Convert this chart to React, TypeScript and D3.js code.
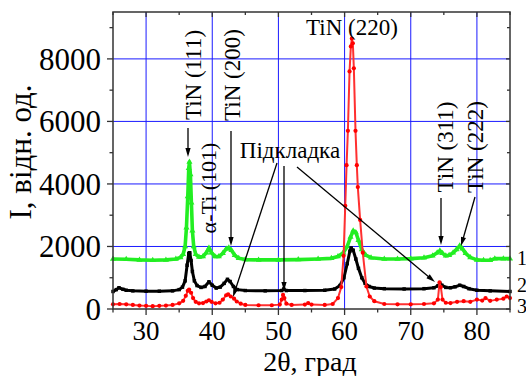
import React from "react";
import * as d3 from "d3";

// XRD patterns, 2θ (deg) vs intensity (arb. units)
const curve1: [number, number][] = [
  [25, 1600], [27, 1590], [29, 1570], [31, 1560], [33, 1570], [34.5, 1600], [35.2, 1650],
  [35.6, 1750], [35.9, 2000], [36.1, 2600], [36.3, 3600], [36.45, 4500], [36.55, 4700],
  [36.7, 4300], [36.85, 3400], [37.0, 2500], [37.2, 2000], [37.5, 1750], [38.0, 1660],
  [38.6, 1680], [39.1, 1800], [39.5, 1950], [39.9, 1800], [40.4, 1680], [41.0, 1680],
  [41.6, 1780], [42.1, 1920], [42.5, 1960], [42.9, 1880], [43.4, 1720], [44.0, 1620],
  [45, 1580], [47, 1570], [50, 1570], [53, 1580], [56, 1600], [58, 1620], [59, 1680],
  [59.8, 1800], [60.4, 2000], [60.9, 2300], [61.3, 2500], [61.7, 2450], [62.1, 2200],
  [62.6, 1900], [63.2, 1720], [64, 1640], [66, 1600], [68, 1600], [70, 1610], [72, 1640],
  [73.3, 1700], [74.0, 1800], [74.4, 1860], [74.8, 1780], [75.3, 1700], [75.8, 1720],
  [76.4, 1800], [76.9, 1900], [77.4, 2020], [77.8, 1930], [78.3, 1780], [79.0, 1650],
  [80, 1570], [81, 1560], [82, 1560], [82.7, 1610], [84, 1610], [85, 1610],
];

const curve2: [number, number][] = [
  [25, 560], [25.5, 620], [25.9, 680], [26.5, 630], [27, 600], [28, 580], [30, 570],
  [32, 570], [34, 580], [35, 620], [35.5, 700], [35.9, 900], [36.2, 1400], [36.45, 1780],
  [36.6, 1800], [36.8, 1550], [37.0, 1200], [37.3, 900], [37.7, 750], [38.3, 690],
  [38.9, 720], [39.5, 870], [40.0, 760], [40.6, 670], [41.2, 700], [41.8, 820], [42.3, 950],
  [42.7, 880], [43.2, 720], [43.8, 620], [45, 590], [48, 580], [50.5, 590], [50.8, 640],
  [51.2, 590], [54, 590], [57, 600], [58.5, 640], [59.3, 750], [59.9, 1000], [60.4, 1450],
  [60.8, 1850], [61.0, 1950], [61.3, 1880], [61.7, 1600], [62.1, 1300], [62.6, 1000],
  [63.1, 820], [63.7, 720], [64.5, 670], [66, 650], [69, 640], [72, 650], [73.5, 680],
  [74.1, 740], [74.4, 820], [74.7, 760], [75.3, 690], [76, 680], [76.7, 710], [77.4, 760],
  [78, 720], [78.8, 650], [80, 600], [82, 580], [85, 560],
];

const curve3: [number, number][] = [
  [25, 150], [26, 160], [27, 150], [28, 130], [29, 110], [30, 100], [31, 90], [32, 100],
  [33, 110], [34, 130], [35, 180], [35.6, 260], [36.0, 420], [36.3, 580], [36.5, 620],
  [36.8, 520], [37.1, 350], [37.5, 230], [38, 180], [38.6, 190], [39.1, 240], [39.5, 280],
  [39.9, 230], [40.5, 180], [41.1, 200], [41.6, 300], [42.1, 440], [42.4, 470], [42.8, 400],
  [43.3, 330], [43.7, 240], [44.3, 170], [45, 130], [47, 120], [49, 120], [50.2, 140],
  [50.5, 300], [50.7, 450], [50.9, 350], [51.2, 170], [52, 130], [54, 140], [54.5, 190],
  [55, 140], [57, 130], [58.2, 160], [59.0, 350], [59.5, 700], [59.85, 1700], [60.1, 3300],
  [60.3, 4600], [60.5, 5700], [60.75, 7600], [60.95, 8400], [61.1, 8650], [61.25, 8500],
  [61.4, 7700], [61.65, 5700], [61.85, 4600], [62.0, 3900], [62.35, 2850], [62.75, 1800],
  [63.3, 720], [63.8, 400], [64.5, 250], [66, 160], [68, 150], [70, 150], [72, 160],
  [73.5, 180], [74.1, 300], [74.35, 850], [74.55, 700], [74.8, 300], [75.3, 200], [76, 190],
  [77, 230], [78, 250], [79, 230], [80, 300], [80.8, 270], [81.3, 350], [82, 260], [83, 300],
  [84, 330], [84.5, 400], [85, 350],
];

const xTicks = [30, 40, 50, 60, 70, 80];
const xMinorTicks = [25, 35, 45, 55, 65, 75, 85];
const yTicks = [0, 2000, 4000, 6000, 8000];
const yMinorTicks = [1000, 3000, 5000, 7000, 9000];
const gridX = [30, 40, 50, 60, 70, 80];
const gridY = [2000, 4000, 6000, 8000];
const curveNames = ["1", "2", "3"];

const W = 526;
const H = 376;
const m = { top: 12, right: 16, bottom: 67, left: 113 };
const serif = "Liberation Serif, Times New Roman, serif";

export default function App() {
  const x = d3.scaleLinear().domain([25, 85]).range([m.left, W - m.right]);
  const y = d3.scaleLinear().domain([0, 9500]).range([H - m.bottom, m.top]);
  const line = d3
    .line<[number, number]>()
    .x((d) => x(d[0]))
    .y((d) => y(d[1]));

  const series = [
    { data: curve1, color: "#22ee22", line: "#22ee22", width: 3.6, sym: d3.symbolTriangle, size: 16 },
    { data: curve2, color: "#000000", line: "#000000", width: 3, sym: d3.symbolSquare, size: 12 },
    { data: curve3, color: "#ff0000", line: "#ff3030", width: 2, sym: d3.symbolCircle, size: 14 },
  ];

  const x0 = m.left, x1 = W - m.right, y0 = H - m.bottom, y1 = m.top;

  // arrow from (ax, ay) to tip (bx, by), pixel coords
  const arrow = (ax: number, ay: number, bx: number, by: number, key: string) => {
    const ang = Math.atan2(by - ay, bx - ax);
    const len = 9, half = 2.6;
    const p1 = [bx - len * Math.cos(ang) + half * Math.sin(ang), by - len * Math.sin(ang) - half * Math.cos(ang)];
    const p2 = [bx - len * Math.cos(ang) - half * Math.sin(ang), by - len * Math.sin(ang) + half * Math.cos(ang)];
    return (
      <g key={key}>
        <line x1={ax} y1={ay} x2={bx - 6 * Math.cos(ang)} y2={by - 6 * Math.sin(ang)} stroke="#000" strokeWidth={1.3} />
        <path d={`M${bx},${by}L${p1[0]},${p1[1]}L${p2[0]},${p2[1]}Z`} fill="#000" />
      </g>
    );
  };

  return (
    <svg width={W} height={H} style={{ position: "absolute", left: 0, top: 0, background: "#fff", fontFamily: serif }}>
      {/* grid */}
      {gridX.map((v) => (
        <line key={"gx" + v} x1={x(v)} x2={x(v)} y1={y0} y2={y1} stroke="#1a1aff" strokeWidth={1} />
      ))}
      {gridY.map((v) => (
        <line key={"gy" + v} x1={x0} x2={x1} y1={y(v)} y2={y(v)} stroke="#1a1aff" strokeWidth={1} />
      ))}

      {/* curves */}
      {series.map((s, i) => (
        <g key={"s" + i}>
          <path d={line(s.data) || ""} fill="none" stroke={s.line} strokeWidth={s.width} strokeLinejoin="round" />
          {s.data.map((d, j) => (
            <path
              key={j}
              d={d3.symbol(s.sym, s.size)() || ""}
              transform={`translate(${x(d[0])},${y(d[1])})`}
              fill={s.color}
            />
          ))}
        </g>
      ))}

      {/* frame */}
      <rect x={x0} y={y1} width={x1 - x0} height={y0 - y1} fill="none" stroke="#333" strokeWidth={1.5} />

      {/* x ticks */}
      {xTicks.map((v) => (
        <g key={"xt" + v}>
          <line x1={x(v)} x2={x(v)} y1={y0} y2={y0 + 6} stroke="#333" strokeWidth={1.3} />
          <line x1={x(v)} x2={x(v)} y1={y1} y2={y1 + 5} stroke="#333" strokeWidth={1.3} />
          <text x={x(v)} y={340} textAnchor="middle" fontSize={27}>{v}</text>
        </g>
      ))}
      {xMinorTicks.map((v) => (
        <g key={"xm" + v}>
          <line x1={x(v)} x2={x(v)} y1={y0} y2={y0 + 3.5} stroke="#333" strokeWidth={1.3} />
          <line x1={x(v)} x2={x(v)} y1={y1} y2={y1 + 3} stroke="#333" strokeWidth={1.3} />
        </g>
      ))}

      {/* y ticks */}
      {yTicks.map((v) => (
        <g key={"yt" + v}>
          <line x1={x0 - 6} x2={x0} y1={y(v)} y2={y(v)} stroke="#333" strokeWidth={1.3} />
          <line x1={x1 - 4} x2={x1} y1={y(v)} y2={y(v)} stroke="#333" strokeWidth={1.3} />
          <text x={101} y={y(v) + 11} textAnchor="end" fontSize={31}>{v}</text>
        </g>
      ))}
      {yMinorTicks.map((v) => (
        <g key={"ym" + v}>
          <line x1={x0 - 3.5} x2={x0} y1={y(v)} y2={y(v)} stroke="#333" strokeWidth={1.3} />
          <line x1={x1 - 3} x2={x1} y1={y(v)} y2={y(v)} stroke="#333" strokeWidth={1.3} />
        </g>
      ))}

      {/* axis titles */}
      <text x={310} y={370.5} textAnchor="middle" fontSize={28}>2θ, град</text>
      <text transform="translate(31,152) rotate(-90)" textAnchor="middle" fontSize={31}>I, відн. од.</text>

      {/* curve numbers */}
      {curveNames.map((n, i) => (
        <text key={"n" + n} x={517} y={[265, 292, 313][i]} fontSize={20}>{n}</text>
      ))}

      {/* peak labels */}
      <text transform="translate(201,75) rotate(-90)" textAnchor="middle" fontSize={23}>TiN (111)</text>
      <text transform="translate(240,75) rotate(-90)" textAnchor="middle" fontSize={23}>TiN (200)</text>
      <text transform="translate(216,188) rotate(-90)" textAnchor="middle" fontSize={22}>α-Ti (101)</text>
      <text x={352} y={35} textAnchor="middle" fontSize={23}>TiN (220)</text>
      <text transform="translate(453,147) rotate(-90)" textAnchor="middle" fontSize={23}>TiN (311)</text>
      <text transform="translate(483,147) rotate(-90)" textAnchor="middle" fontSize={23}>TiN (222)</text>
      <text x={290} y={158} textAnchor="middle" fontSize={23}>Підкладка</text>

      {arrow(188, 128, 188, 157, "a1")}
      {arrow(231, 131, 231, 246, "a2")}
      {arrow(277, 163, 233, 297, "a3")}
      {arrow(284, 166, 284, 291, "a4")}
      {arrow(297, 167, 435, 282, "a5")}
      {arrow(441, 198, 441, 245, "a6")}
      {arrow(475, 197, 461, 246, "a7")}
    </svg>
  );
}
